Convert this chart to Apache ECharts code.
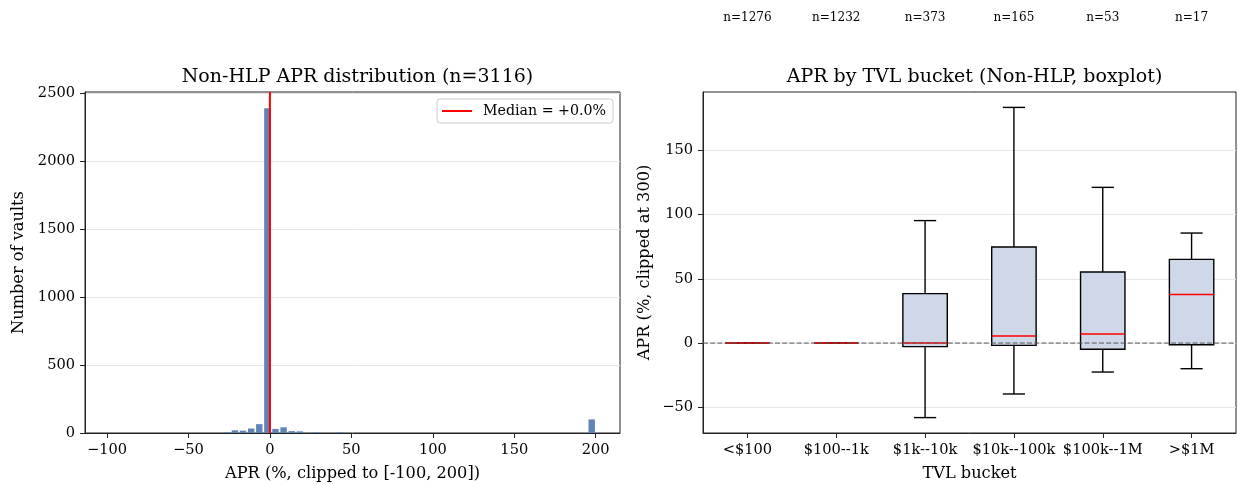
<!DOCTYPE html>
<html><head><meta charset="utf-8">
<script src="https://cdn.jsdelivr.net/npm/echarts@6/dist/echarts.min.js"></script>
<style>html,body{margin:0;padding:0;background:#fff}#c{width:1238px;height:485px}</style>
</head><body><div id="c"></div>
<script>
// ---- Histogram data (left panel) ----
const binLeft   = [-98.6, -28.92, -23.95, -18.97, -13.99, -9.01, -4.04, 0.94, 5.92, 10.89, 15.87, 25.83, 40.76, 195.04];
const binCounts = [1, 5, 20, 17, 33, 65, 2388, 30, 42, 14, 12, 5, 5, 100];
const binWidth  = 4.977;
const medianAPR = 0.0;
const histXTicks = [-100, -50, 0, 50, 100, 150, 200];
const histYTicks = [0, 500, 1000, 1500, 2000, 2500];

// ---- Boxplot data (right panel) ----
const buckets     = ['<$100', '$100--1k', '$1k--10k', '$10k--100k', '$100k--1M', '>$1M'];
const bucketN     = [1276, 1232, 373, 165, 53, 17];
const whiskerLow  = [0, 0, -58.1, -39.7, -22.6, -20.0];
const q1          = [0, 0, -2.8, -1.8, -4.9, -1.3];
const medians     = [0, 0, 0.0, 5.5, 7.0, 37.9];
const q3          = [0, 0, 38.5, 74.8, 55.3, 65.2];
const whiskerHigh = [0, 0, 95.4, 183.6, 121.3, 85.7];
const boxYTicks   = [-50, 0, 50, 100, 150];
const zeroRef     = 0;

const FONT = 'DejaVu Serif';
const AX = '#222';
const fmtMinus = v => String(v).replace('-', '\u2212');

const histData = binLeft.map((l, i) => [l, l + binWidth, binCounts[i]]);
const boxData = buckets.map((b, i) => [i, whiskerLow[i], q1[i], medians[i], q3[i], whiskerHigh[i]]);
const medLabel = 'Median = ' + (medianAPR >= 0 ? '+' : '') + medianAPR.toFixed(1) + '%';

const chart = echarts.init(document.getElementById('c'), null, {renderer: 'canvas'});

function renderBar(params, api) {
  const p0 = api.coord([api.value(0), 0]);
  const p1 = api.coord([api.value(1), api.value(2)]);
  const gap = 0.85;
  return {
    type: 'rect',
    shape: {x: p0[0] + gap, y: p1[1], width: Math.max(0.5, p1[0] - p0[0] - 2 * gap), height: p0[1] - p1[1]},
    style: {fill: '#6083b7'}
  };
}

function renderVLine(params, api) {
  const cs = params.coordSys;
  const p = api.coord([api.value(0), 0]);
  return {type: 'line', shape: {x1: p[0], y1: cs.y, x2: p[0], y2: cs.y + cs.height},
    style: {stroke: '#ff0000', lineWidth: 2}};
}

function renderBox(params, api) {
  const i = api.value(0);
  const lo = api.coord([i, api.value(1)]);
  const a = api.coord([i, api.value(2)]);
  const m = api.coord([i, api.value(3)]);
  const b = api.coord([i, api.value(4)]);
  const hi = api.coord([i, api.value(5)]);
  const w = api.size([1, 0])[0];
  const bw = w * 0.5, cw = w * 0.25, cx = lo[0];
  const st = {stroke: '#000', lineWidth: 1.4};
  return {type: 'group', children: [
    {type: 'line', shape: {x1: cx, y1: a[1], x2: cx, y2: lo[1]}, style: st},
    {type: 'line', shape: {x1: cx, y1: b[1], x2: cx, y2: hi[1]}, style: st},
    {type: 'line', shape: {x1: cx - cw / 2, y1: lo[1], x2: cx + cw / 2, y2: lo[1]}, style: st},
    {type: 'line', shape: {x1: cx - cw / 2, y1: hi[1], x2: cx + cw / 2, y2: hi[1]}, style: st},
    {type: 'rect', shape: {x: cx - bw / 2, y: b[1], width: bw, height: a[1] - b[1]}, style: {fill: '#ced8e8', stroke: '#000', lineWidth: 1.4}},
    {type: 'line', shape: {x1: cx - bw / 2, y1: m[1], x2: cx + bw / 2, y2: m[1]}, style: {stroke: '#ff0000', lineWidth: 1.5}}
  ]};
}

function renderZero(params, api) {
  const cs = params.coordSys;
  const p = api.coord([0, api.value(1)]);
  return {type: 'line', shape: {x1: cs.x, y1: p[1], x2: cs.x + cs.width, y2: p[1]},
    style: {stroke: '#555', lineWidth: 1, lineDash: [5, 2.2], opacity: 1}};
}

const tickLbl = {fontFamily: FONT, fontSize: 14.6, color: '#000'};
const nameStyle = {fontFamily: FONT, fontSize: 16.2, color: '#000'};

chart.setOption({
  animation: false,
  backgroundColor: '#fff',
  textStyle: {fontFamily: FONT},
  title: [
    {text: 'Non-HLP APR distribution (n=3116)', left: 352.5, top: 63, textAlign: 'center',
     textStyle: {fontFamily: FONT, fontSize: 19, fontWeight: 'normal', color: '#000'}},
    {text: 'APR by TVL bucket (Non-HLP, boxplot)', left: 969.5, top: 63, textAlign: 'center',
     textStyle: {fontFamily: FONT, fontSize: 19, fontWeight: 'normal', color: '#000'}}
  ],
  legend: {
    data: [{name: medLabel, icon: 'rect'}], left: 437, top: 99, orient: 'vertical',
    itemWidth: 30, itemHeight: 2, padding: [5, 7, 5, 5],
    itemStyle: {color: '#ff0000'},
    backgroundColor: 'rgba(255,255,255,0.8)', borderColor: '#cccccc', borderWidth: 1, borderRadius: 3,
    textStyle: {fontFamily: FONT, fontSize: 14.2, color: '#000', padding: [0, 0, 0, 6]}
  },
  grid: [
    {left: 85, top: 92, width: 535, height: 341, show: true, borderColor: AX, borderWidth: 1,
     backgroundColor: 'transparent', containLabel: false, outerBoundsMode: 'none'},
    {left: 703, top: 92, width: 533, height: 341, show: true, borderColor: AX, borderWidth: 1,
     backgroundColor: 'transparent', containLabel: false, outerBoundsMode: 'none'}
  ],
  xAxis: [
    {type: 'value', gridIndex: 0, min: -113.5, max: 214.9,
     name: 'APR (%, clipped to [-100, 200])', nameLocation: 'middle', nameGap: 33,
     nameTextStyle: nameStyle,
     axisLine: {show: true, onZero: false, lineStyle: {color: AX, width: 1}},
     axisTick: {show: true, length: 5, lineStyle: {color: AX}, customValues: histXTicks},
     axisLabel: Object.assign({margin: 10, customValues: histXTicks, formatter: fmtMinus}, tickLbl),
     splitLine: {show: false}},
    {type: 'category', gridIndex: 1, data: buckets, boundaryGap: true,
     name: 'TVL bucket', nameLocation: 'middle', nameGap: 33,
     nameTextStyle: nameStyle,
     axisLine: {show: true, onZero: false, lineStyle: {color: AX, width: 1}},
     axisTick: {show: true, length: 5, alignWithLabel: true, lineStyle: {color: AX}},
     axisLabel: Object.assign({margin: 10, interval: 0, hideOverlap: false}, tickLbl),
     splitLine: {show: false}},
    {type: 'category', gridIndex: 1, position: 'top', offset: 60, data: buckets, boundaryGap: true,
     axisLine: {show: false}, axisTick: {show: false}, splitLine: {show: false},
     axisLabel: {margin: 8, interval: 0, fontFamily: FONT, fontSize: 12, color: '#000',
       formatter: (v, idx) => 'n=' + bucketN[idx]}}
  ],
  yAxis: [
    {type: 'value', gridIndex: 0, min: 0, max: 2508,
     name: 'Number of vaults', nameLocation: 'middle', nameGap: 58,
     nameTextStyle: nameStyle,
     axisLine: {show: true, onZero: false, lineStyle: {color: AX, width: 1}},
     axisTick: {show: true, length: 5, lineStyle: {color: AX}, customValues: histYTicks},
     axisLabel: Object.assign({margin: 10, customValues: histYTicks, formatter: v => String(v)}, tickLbl),
     splitLine: {show: true, lineStyle: {color: '#e6e6e6', width: 1}}},
    {type: 'value', gridIndex: 1, min: -70.1, max: 195.6,
     name: 'APR (%, clipped at 300)', nameLocation: 'middle', nameGap: 50,
     nameTextStyle: nameStyle,
     axisLine: {show: true, onZero: false, lineStyle: {color: AX, width: 1}},
     axisTick: {show: true, length: 5, lineStyle: {color: AX}, customValues: boxYTicks},
     axisLabel: Object.assign({margin: 10, customValues: boxYTicks, formatter: fmtMinus}, tickLbl),
     splitLine: {show: true, lineStyle: {color: '#e6e6e6', width: 1}}}
  ],
  series: [
    {type: 'custom', name: 'hist', xAxisIndex: 0, yAxisIndex: 0, renderItem: renderBar,
     data: histData, encode: {x: [0, 1], y: 2}, clip: true, z: 2},
    {type: 'custom', name: medLabel, xAxisIndex: 0, yAxisIndex: 0, renderItem: renderVLine,
     data: [[medianAPR, 0]], encode: {x: 0, y: 1}, itemStyle: {color: '#ff0000'}, z: 4},
    {type: 'custom', name: 'box', xAxisIndex: 1, yAxisIndex: 1, renderItem: renderBox,
     data: boxData, encode: {x: 0, y: [1, 2, 3, 4, 5]}, z: 3},
    {type: 'custom', name: 'zero', xAxisIndex: 1, yAxisIndex: 1, renderItem: renderZero,
     data: [[0, zeroRef]], encode: {x: 0, y: 1}, z: 6}
  ]
});
</script></body></html>
